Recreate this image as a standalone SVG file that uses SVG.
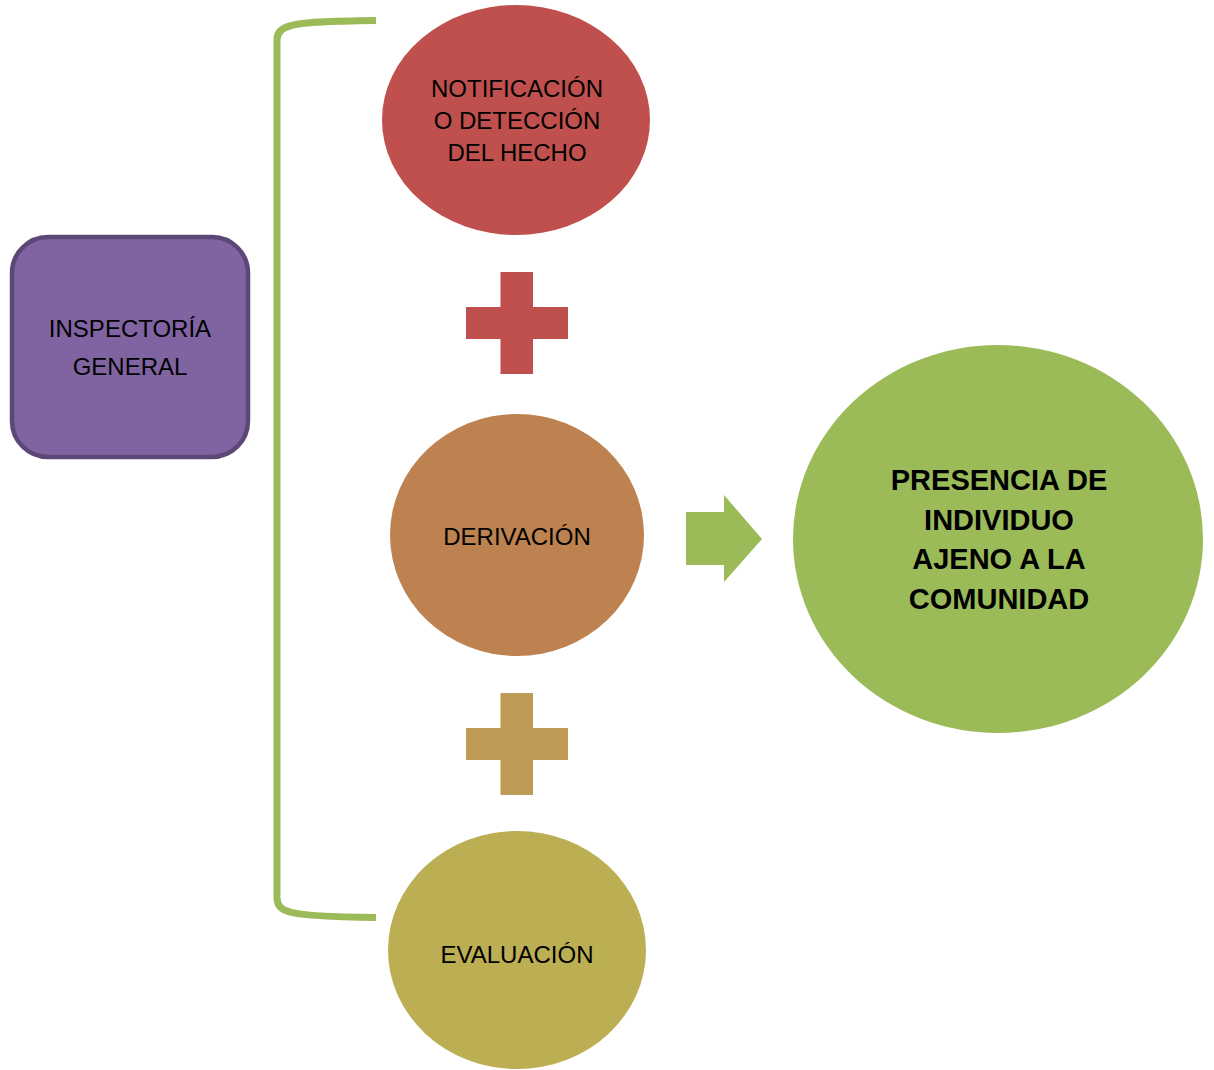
<svg xmlns="http://www.w3.org/2000/svg" width="1214" height="1070" viewBox="0 0 1214 1070">
  <style>
    .lbl { font-family: "Liberation Sans", Arial, sans-serif; font-size: 24px; fill: #000; text-anchor: middle; }
    .big { font-family: "Liberation Sans", Arial, sans-serif; font-size: 29px; font-weight: bold; fill: #000; text-anchor: middle; }
  </style>
  <rect width="1214" height="1070" fill="#ffffff"/>

  <!-- bracket grouping the three steps, and the arrow to the outcome -->
  <g id="connectors">
    <path d="M376 20.5 C330 21 300 22 290 26 Q277 29 277 40 L277 898 Q277 909 290 912 C300 915 330 917 376 917.5" fill="none" stroke="#9bbb59" stroke-width="7" stroke-linejoin="round"/>
    <polygon points="686,512 724,512 724,495 762,539 724,582 724,565 686,565" fill="#9bbb59"/>
  </g>

  <g id="inspectoria">
    <rect x="12" y="237" width="236" height="220" rx="36" ry="36" fill="#8064a2" stroke="#5c4776" stroke-width="4.5"/>
    <text class="lbl" x="130" y="337">INSPECTORÍA</text>
    <text class="lbl" x="130" y="375">GENERAL</text>
  </g>

  <g id="notificacion">
    <ellipse cx="516" cy="120" rx="134" ry="115" fill="#c0504d"/>
    <text class="lbl" x="517" y="97">NOTIFICACIÓN</text>
    <text class="lbl" x="517" y="129">O DETECCIÓN</text>
    <text class="lbl" x="517" y="161">DEL HECHO</text>
  </g>

  <g id="plus1">
    <path d="M500.5 272 H533 V307 H568 V339 H533 V374 H500.5 V339 H466 V307 H500.5 Z" fill="#c0504d"/>
  </g>

  <g id="derivacion">
    <ellipse cx="517" cy="535" rx="127" ry="121" fill="#bd824f"/>
    <text class="lbl" x="517" y="545">DERIVACIÓN</text>
  </g>

  <g id="plus2">
    <path d="M500.5 693 H533 V728 H568 V760 H533 V795 H500.5 V760 H466 V728 H500.5 Z" fill="#bf9b55"/>
  </g>

  <g id="evaluacion">
    <ellipse cx="517" cy="950" rx="129" ry="119" fill="#bcae52"/>
    <text class="lbl" x="517" y="963">EVALUACIÓN</text>
  </g>

  <g id="presencia">
    <ellipse cx="998" cy="539" rx="205" ry="194" fill="#9bbb59"/>
    <text class="big" x="999" y="490">PRESENCIA DE</text>
    <text class="big" x="999" y="530">INDIVIDUO</text>
    <text class="big" x="999" y="569">AJENO A LA</text>
    <text class="big" x="999" y="609">COMUNIDAD</text>
  </g>
</svg>
